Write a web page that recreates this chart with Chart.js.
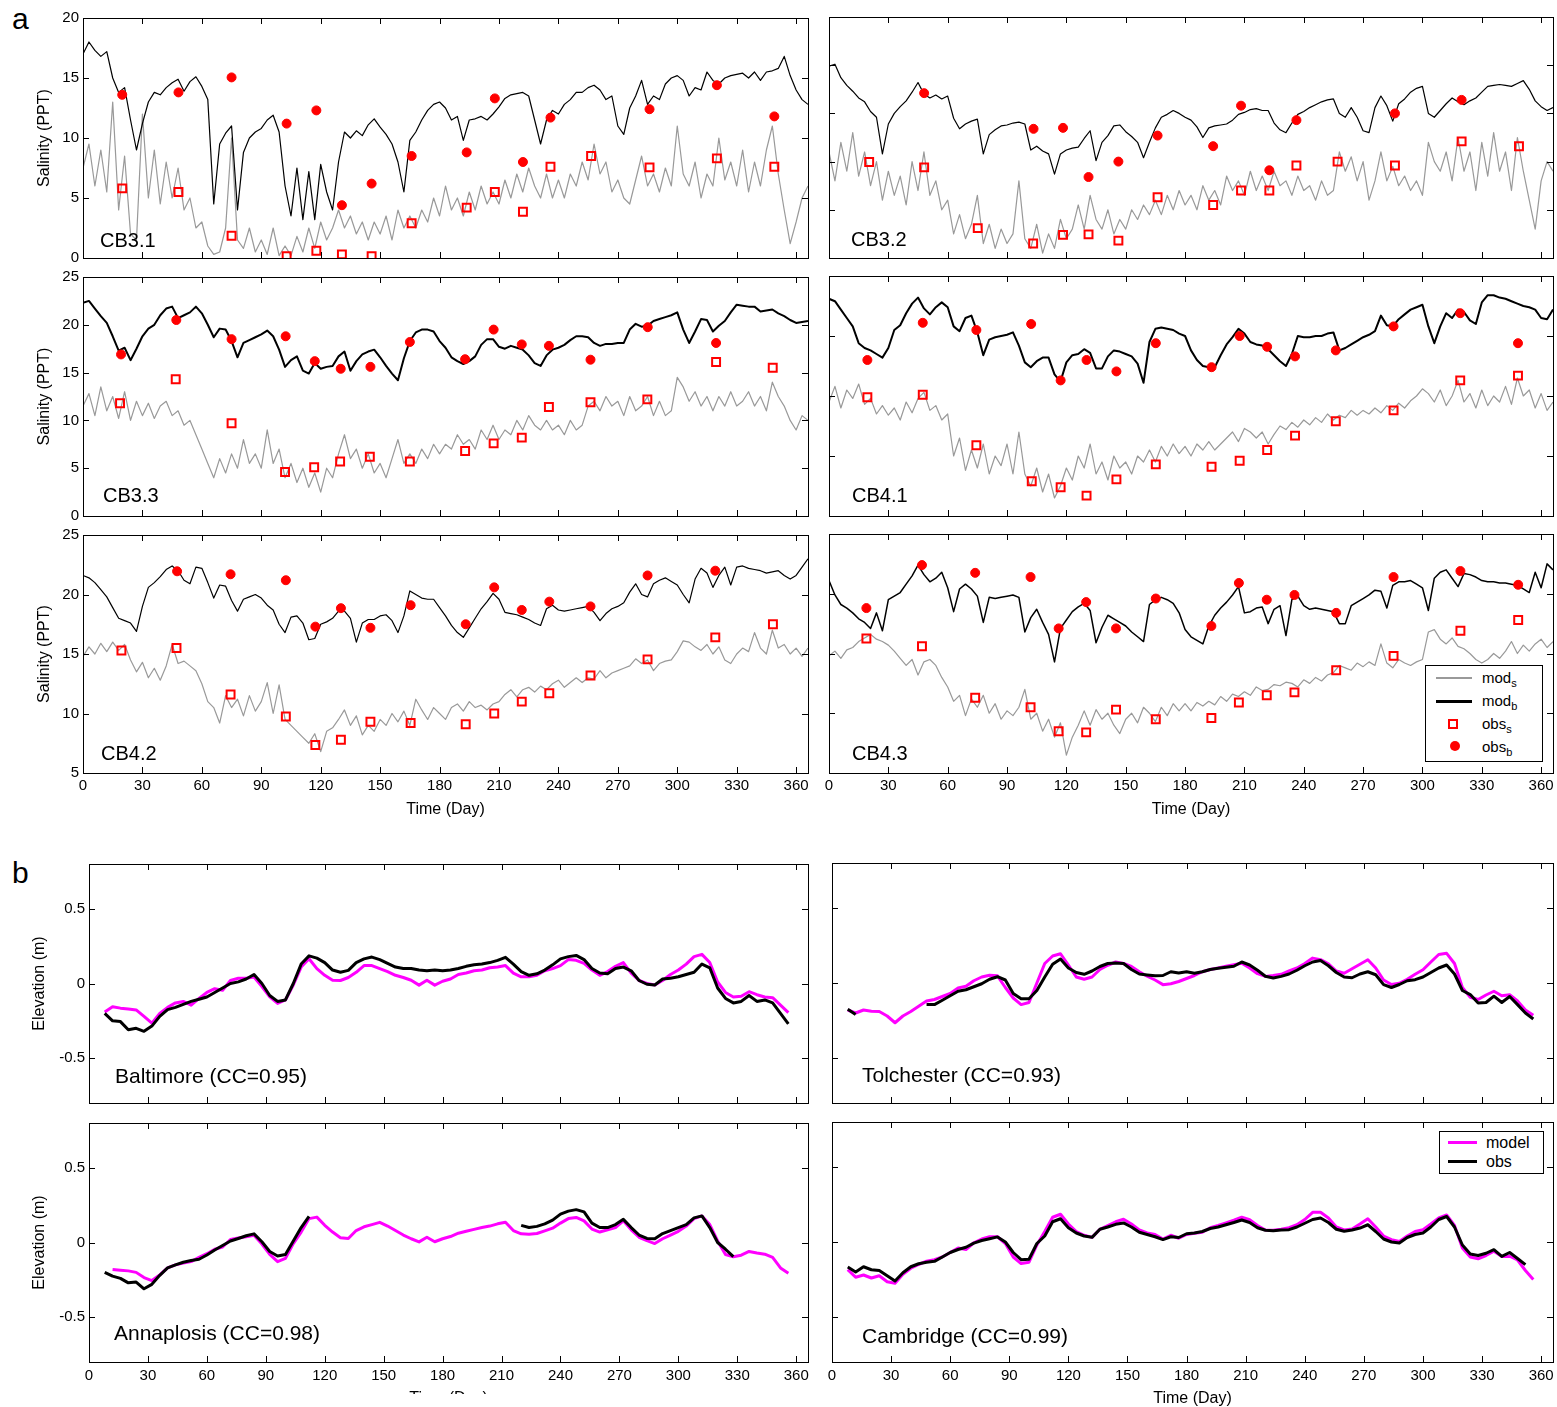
<!DOCTYPE html>
<html>
<head>
<meta charset="utf-8">
<script src="https://cdn.jsdelivr.net/npm/chart.js@4.4.1/dist/chart.umd.min.js"></script>
<style>
  html, body { margin: 0; padding: 0; background: #fff; overflow: hidden; }
  body { width: 1557px; height: 1407px; position: relative; font-family: 'Liberation Sans', Arial, sans-serif; color: #000; }
  .panel { position: absolute; overflow: hidden; }
  .letter { position: absolute; font-size: 30px; line-height: 30px; }
  .legend { position: absolute; border: 1px solid #000; background: #fff; z-index: 10; }
  .legend div { position: absolute; }
  .ltext { font-size: 15px; line-height: 15px; white-space: nowrap; }
  .ltext sub { font-size: 11px; vertical-align: -4px; line-height: 0; }
  .lsq { width: 6px; height: 6px; border: 2px solid #f00; }
  .ldot { width: 10px; height: 10px; border-radius: 50%; background: #f00; }
</style>
</head>
<body>
<div class="letter" style="left:12px;top:4px">a</div>
<div class="letter" style="left:12px;top:858px">b</div>

<div class="legend" style="left:1425px;top:665px;width:116px;height:95px">
  <div style="left:10px;top:10.5px;width:36px;height:2.5px;background:#999"></div>
  <div class="ltext" style="left:56px;top:4px">mod<sub>s</sub></div>
  <div style="left:10px;top:33.5px;width:36px;height:3px;background:#000"></div>
  <div class="ltext" style="left:56px;top:27px">mod<sub>b</sub></div>
  <div class="lsq" style="left:22px;top:52.5px"></div>
  <div class="ltext" style="left:56px;top:50px">obs<sub>s</sub></div>
  <div class="ldot" style="left:23.5px;top:75px"></div>
  <div class="ltext" style="left:56px;top:72.5px">obs<sub>b</sub></div>
</div>

<div class="legend" style="left:1439px;top:1131px;width:103px;height:41px">
  <div style="left:8px;top:8.8px;width:29px;height:3px;background:#f0f"></div>
  <div class="ltext" style="left:46px;top:2.5px;font-size:16px;line-height:16px">model</div>
  <div style="left:8px;top:28.2px;width:29px;height:3px;background:#000"></div>
  <div class="ltext" style="left:46px;top:21.9px;font-size:16px;line-height:16px">obs</div>
</div>

<script>
// ---- axis ticks ----
const dayTicks = [0, 30, 60, 90, 120, 150, 180, 210, 240, 270, 300, 330, 360];
const salTicks0to20 = [0, 5, 10, 15, 20];
const salTicks0to25 = [0, 5, 10, 15, 20, 25];
const salTicks5to25 = [5, 10, 15, 20, 25];
const elevTicks = [-0.5, 0, 0.5];

// ---- salinity model series, one value every 3 days from day 0 ----
const cb31Surf = [
  7.5, 9.5, 6, 9, 5.5, 13, 4, 8.5, 2, 1.5,
  12, 5, 9, 4.5, 8, 5, 7.5, 4, 5, 2.5,
  3, 1, 0.3, 0.5, 2.5, 10, 1.5, 0.8, 2.5, 0.5,
  1.5, 0.3, 2.5, 0.2, 1, 0.2, 1.8, 0.5, 2.5, 0.8,
  3, 1.5, 2.5, 4, 2.5, 3.5, 2, 3, 1.5, 3,
  2, 3.5, 1.5, 4, 2.5, 3.5, 2.5, 4, 3, 5,
  3.5, 6, 4, 5, 3.5, 5.5, 4, 6, 4.5, 5.5,
  4.5, 6.5, 5, 7, 5.5, 7.5, 6, 5, 7, 5,
  6.5, 5, 7, 6, 8, 6.5, 9.5, 7, 8, 5.5,
  6.5, 5, 4.5, 6.5, 8.5, 6, 7, 5.5, 7.5, 6,
  11, 7, 6, 8, 5, 7, 6, 10, 6.5, 8,
  6, 9, 5.5, 8, 6, 9, 11, 7, 4, 1.2,
  3, 5, 6
];
const cb31Bot = [
  17.0, 18.0, 17.3, 16.8, 17.2, 15.0, 13.8, 14.2, 11.5, 9.0,
  11.2, 13.0, 13.8, 13.6, 14.2, 14.6, 14.9, 13.9, 14.7, 15.1,
  14.3, 13.2, 4.5, 9.5, 10.4, 11.0, 4.0, 8.8, 10.0, 10.5,
  10.8, 11.5, 11.9, 10.5, 6.0, 3.5, 7.5, 3.2, 7.2, 3.2,
  7.8, 5.5, 4.0, 8.0, 10.5, 10.0, 10.6, 10.2, 11.1, 11.6,
  10.9, 10.3, 9.5, 8.0, 5.5, 9.8, 10.5, 11.5, 12.3, 12.8,
  13.0, 12.5, 11.5, 11.8, 9.8, 11.5, 11.6, 11.8, 11.5, 12.0,
  12.6, 13.3, 13.6, 13.7, 13.8, 13.5, 11.5, 9.5, 11.5, 12.3,
  12.0, 12.8, 13.2, 13.8, 13.8, 14.2, 14.4, 14.0, 13.2, 13.5,
  11.0, 10.3, 12.5, 13.5, 14.8, 12.8, 13.5, 13.2, 14.5, 15.0,
  15.2, 14.8, 13.5, 14.2, 14.0, 15.5, 14.8, 14.5, 15.0, 15.2,
  15.3, 15.4, 15.0, 15.5, 14.8, 15.5, 15.6, 15.8, 16.8, 15.2,
  14.0, 13.2, 12.8
];
const cb32Surf = [
  11, 8, 12, 9, 13, 8.5, 11, 7.5, 10, 6,
  9, 6.5, 8.5, 5.5, 10, 7, 11, 6.5, 8, 5,
  6, 2.5, 4.5, 2, 3.5, 6.5, 1.5, 3.5, 1, 3,
  1.5, 2.5, 8, 2, 1, 3.5, 0.5, 2.5, 1, 4,
  2, 3, 5.5, 3, 6.5, 4, 3, 5, 2.5, 4,
  3, 5, 4, 5.5, 4.5, 6, 4.5, 6.5, 5, 7,
  5.5, 6.5, 5, 7.5, 6, 7, 5.5, 8.5, 7, 8,
  6.5, 9, 7, 8.5, 7, 9, 7.5, 8, 6.5, 8.5,
  7, 7.5, 6, 8, 6.5, 7, 11, 9, 10.5, 8,
  10, 6, 8, 11, 8, 9.5, 7.5, 8.5, 7, 8,
  6.5, 12, 10, 9, 11, 8, 12.5, 9, 11, 7,
  12, 8.5, 13, 9, 11, 7, 12.5, 9, 6, 3,
  8, 10, 9
];
const cb32Bot = [
  19.9, 20.1, 18.7, 17.9, 17.3, 16.6, 16.2, 15.2, 14.6, 10.8,
  13.9, 15.0, 15.7, 16.3, 17.2, 18.2, 17.0, 16.6, 16.9, 16.5,
  16.8, 14.5, 13.4, 13.9, 14.2, 14.4, 10.8, 12.8, 13.3, 13.7,
  13.8, 14.0, 14.1, 13.9, 11.2, 11.6, 11.1, 10.8, 8.7, 10.8,
  11.2, 11.4, 11.5, 12.4, 13.2, 10.1, 12.0, 12.7, 13.7, 13.8,
  13.1, 12.6, 12.0, 10.4, 12.0, 13.5, 14.6, 14.9, 15.3, 15.0,
  14.6, 14.3, 13.6, 12.5, 13.5, 13.7, 13.8, 13.9, 14.3, 14.9,
  15.1, 15.4, 15.5, 15.3, 15.3, 14.0, 13.3, 13.0, 14.0, 14.9,
  15.2, 15.6, 15.9, 16.2, 16.4, 16.5, 15.0, 14.6, 15.6, 14.6,
  13.2, 13.0, 15.6, 16.8, 15.8, 14.2, 16.0, 16.5, 17.2, 17.6,
  17.8, 15.0, 14.6, 15.3, 16.0, 16.6, 16.2, 15.9, 16.3, 16.6,
  17.2, 17.8, 17.9, 18.0, 17.9, 17.8, 18.1, 18.4, 17.5, 16.3,
  15.7, 15.3, 15.6
];
const cb33Surf = [
  11.5, 12.8, 10.5, 13.5, 11.0, 12.5, 10.2, 13.0, 10.0, 12.0,
  10.5, 11.8, 10.2, 11.5, 12.0, 10.5, 11.0, 9.5, 10.0, 8.5,
  7.0, 5.5, 4.0, 6.0, 4.5, 6.5, 5.0, 8.0, 5.5, 6.5,
  5.0, 9.0, 5.5, 7.0, 4.0, 5.5, 3.5, 5.0, 3.0, 4.5,
  2.5, 5.0, 4.0, 6.5, 8.5, 6.0, 7.0, 5.0, 6.5, 4.5,
  5.5, 4.0, 6.0, 8.0, 5.5, 6.5, 5.5, 7.0, 6.0, 7.5,
  6.5, 7.5, 7.0, 8.5, 7.5, 8.0, 7.0, 9.0, 8.0, 9.5,
  8.0, 9.0, 8.5, 10.0, 9.0, 10.5, 9.5, 9.0, 10.0, 9.0,
  9.5, 8.5, 10.0, 9.0, 9.5, 11.5, 12.0, 11.0, 12.5, 11.5,
  12.0, 10.5, 12.5, 11.0, 11.5, 12.5, 10.5, 12.0, 10.5, 11.0,
  14.5, 13.5, 12.0, 13.0, 11.5, 12.5, 11.0, 12.5, 11.5, 13.0,
  11.5, 12.0, 13.0, 11.5, 12.5, 11.0, 14.0, 12.5, 11.5, 10.0,
  9.0, 10.5, 10.0
];
const cb33Bot = [
  22.3, 22.5, 21.7, 20.9, 20.2, 18.8, 17.3, 17.6, 16.3, 17.5,
  18.8, 19.6, 20.0, 21.0, 21.7, 21.9, 20.7, 21.0, 21.3, 21.9,
  21.2, 20.0, 18.7, 19.6, 19.5, 18.3, 16.6, 18.1, 18.4, 18.7,
  19.0, 19.4, 18.8, 17.4, 15.6, 16.3, 16.7, 15.2, 14.9, 16.0,
  15.4, 15.6, 15.7, 16.7, 17.2, 15.2, 16.2, 16.9, 17.2, 17.4,
  16.6, 15.7, 14.9, 14.2, 16.5, 18.3, 19.2, 19.5, 19.5, 19.3,
  18.3, 17.6, 16.6, 16.2, 15.9, 16.2, 16.7, 17.9, 18.5, 18.5,
  17.7, 17.5, 17.8, 17.6, 17.4, 16.8, 16.0, 15.7, 16.8, 17.4,
  17.6, 17.9, 18.4, 18.8, 18.8, 18.7, 18.1, 17.8, 18.0, 18.0,
  18.1, 18.1, 19.5, 20.1, 19.8, 19.9, 20.4, 20.6, 20.8, 21.0,
  21.3, 19.5, 18.1, 19.3, 20.6, 20.5, 19.3, 19.9, 20.4, 21.3,
  22.1, 22.0, 21.9, 21.9, 21.4, 21.5, 21.6, 21.2, 20.9, 20.5,
  20.2, 20.3, 20.4
];
const cb41Surf = [
  14.5, 15.8, 14.0, 15.5, 14.8, 16.0, 14.3, 14.8, 13.5, 14.2,
  13.4, 14.0, 13.0, 14.5, 13.6, 14.8, 15.3, 13.8, 14.2, 13.0,
  13.5, 10.0, 11.5, 8.8, 10.5, 9.0, 11.0, 8.5, 10.0, 9.2,
  11.0, 8.5, 12.0, 8.5, 7.5, 9.0, 7.0, 8.5, 6.5, 7.5,
  9.0, 8.0, 10.0, 9.0, 11.0, 8.5, 9.5, 8.0, 10.0, 9.0,
  9.5, 8.5, 10.0, 9.5, 10.5, 9.5, 10.8, 10.0, 11.0, 10.2,
  10.8, 10.0, 11.0, 10.5, 11.2, 10.5, 11.0, 11.5, 12.0, 11.2,
  12.3, 12.0, 11.5, 12.0, 11.0, 11.8, 12.5, 12.2, 12.8, 12.4,
  13.0, 12.6, 13.2, 12.8, 13.5, 13.0, 13.4, 13.2, 13.8, 13.4,
  13.8, 13.5, 14.0, 13.6, 14.2, 13.8, 14.4, 14.0, 14.6, 15.0,
  15.6, 15.2, 14.5, 15.5, 14.2, 15.0, 16.3, 14.5, 15.2, 14.0,
  15.5, 14.2, 15.0, 14.5, 15.8, 14.3, 16.5, 15.0, 15.5, 14.0,
  15.2, 13.8, 14.5
];
const cb41Bot = [
  23.1, 22.9, 22.2, 21.5, 20.8, 19.4, 19.0, 18.8, 18.5, 18.2,
  19.0, 20.5, 20.9, 21.9, 22.7, 23.2, 22.3, 21.8, 22.4, 22.8,
  22.4, 20.8, 20.4, 21.5, 21.7, 20.3, 18.4, 19.7, 19.9, 20.0,
  20.1, 20.3, 19.2, 17.8, 17.4, 17.9, 18.2, 18.2, 16.8, 16.2,
  17.8, 18.4, 18.5, 18.9, 18.6, 17.3, 17.3, 18.3, 18.8, 18.7,
  18.5, 18.3, 17.7, 16.1, 19.5, 20.6, 20.7, 20.6, 20.5, 20.2,
  20.0, 18.8, 18.0, 17.5, 17.4, 17.4, 18.4, 19.3, 19.9, 20.6,
  20.2, 19.5, 19.3, 19.2, 18.9, 18.4, 17.9, 17.5, 18.5, 20.0,
  19.9, 19.9, 20.0, 20.0, 20.2, 20.3, 18.8, 19.0, 19.3, 19.6,
  19.9, 20.1, 20.4, 21.7, 20.9, 20.8, 21.4, 21.8, 22.2, 22.4,
  22.6, 20.8, 19.4, 20.8, 21.9, 21.5, 22.2, 22.0, 21.3, 21.0,
  22.8, 23.4, 23.4, 23.2, 23.1, 22.9, 22.7, 22.5, 22.4, 22.2,
  21.5, 21.4, 22.2
];
const cb42Surf = [
  14.8, 15.6, 15.0, 15.9, 15.2, 16.0, 15.3, 15.8, 14.5, 13.5,
  14.3, 13.0, 13.8, 12.8, 14.0, 15.8, 14.2, 14.4, 14.0, 13.6,
  12.5, 11.0, 10.5, 9.2, 11.5, 10.5, 11.2, 9.8, 11.5, 10.2,
  11.0, 12.6, 10.0, 12.4, 9.5, 9.0, 8.5, 8.0, 7.5, 8.3,
  6.8, 8.5, 8.8, 9.5, 10.3, 9.0, 9.8, 8.2, 9.0, 8.5,
  9.5, 9.0, 10.0, 9.3, 10.2, 9.0, 11.2, 10.3, 9.5, 10.5,
  10.0, 9.5, 10.5, 10.8, 10.2, 11.0, 10.5, 10.7, 10.3, 10.8,
  11.0, 11.6, 12.0, 11.4, 12.0, 12.2, 11.8, 12.3, 12.0, 12.5,
  12.8, 12.2, 12.6, 13.0, 12.6, 13.0, 12.9, 13.6, 13.0, 13.4,
  13.6, 13.8, 14.0, 14.6, 14.2, 14.5, 13.6, 14.2, 14.4, 14.5,
  15.2, 16.1, 16.0, 15.6, 15.3, 15.8, 15.0, 15.6, 14.5, 14.2,
  15.0, 15.5, 15.2, 16.8, 15.5, 15.0, 17.0, 15.5, 15.8, 15.0,
  15.5, 14.8, 15.5
];
const cb42Bot = [
  21.6, 21.4, 21.0, 20.4, 19.8, 18.9, 18.0, 17.8, 17.6, 16.9,
  19.0, 20.6, 21.0, 21.5, 22.1, 22.4, 22.0, 21.2, 20.9, 22.3,
  22.2, 21.0, 19.7, 20.8, 20.7, 19.5, 18.6, 19.6, 19.8, 20.0,
  19.7, 19.1, 18.7, 17.5, 16.8, 18.1, 18.2, 17.6, 16.2, 16.3,
  17.5, 17.7, 18.0, 18.6, 18.6, 18.0, 16.0, 17.6, 17.9, 17.9,
  18.2, 18.3, 17.8, 16.8, 18.2, 20.3, 20.0, 19.7, 19.6, 19.6,
  18.9, 18.2, 17.4, 16.8, 16.4, 17.2, 18.0, 18.8, 19.4, 20.1,
  19.6, 18.5, 18.4, 18.3, 18.1, 17.9, 17.6, 17.4, 18.8, 19.1,
  18.7, 18.6, 18.7, 18.8, 18.9, 19.0, 18.5, 17.8, 18.4, 18.8,
  19.0, 19.3, 20.2, 20.9, 20.0, 19.8, 20.9, 21.2, 21.4, 21.1,
  20.8, 20.0, 19.3, 21.3, 22.2, 21.8, 20.6, 21.6, 22.3, 20.8,
  22.3, 22.4, 22.2, 22.1, 22.0, 21.8, 21.9, 22.0, 21.6, 21.3,
  21.6, 22.3, 23.0
];
const cb43Surf = [
  14.8, 15.2, 14.6, 15.3, 15.5, 16.0, 16.3, 16.6, 16.2, 16.0,
  15.7, 15.2, 14.6, 14.0, 14.5, 13.2, 14.3, 14.5, 14.0, 13.0,
  12.2, 11.0, 11.5, 9.8, 11.2, 10.5, 11.5, 10.0, 10.8, 9.5,
  10.2, 9.8, 10.5, 12.0, 9.5, 10.0, 8.5, 9.5, 8.0, 9.2,
  6.5, 8.0, 9.0, 10.2, 9.0, 10.3, 9.5, 10.0, 9.0, 8.3,
  9.5, 10.0, 9.2, 10.5, 10.0, 9.3, 10.5, 9.8, 10.8, 10.2,
  10.8, 10.2, 10.9, 10.6, 11.0, 10.7, 11.4, 11.0, 11.6, 11.4,
  11.8, 11.5, 12.2, 11.9, 12.0, 12.4, 12.3, 12.6, 12.5, 12.2,
  12.8, 12.5, 13.0, 12.7, 13.2, 13.4, 14.0, 13.8, 13.6, 14.2,
  13.9, 14.3, 14.0, 15.8, 14.2, 13.8, 14.5, 14.2, 14.0, 14.3,
  14.5, 16.8, 17.0, 16.2, 15.8, 16.3, 15.6, 15.4, 15.0, 14.5,
  14.2, 14.5, 15.0, 14.6, 15.2, 16.0, 15.0, 15.7, 15.2, 15.8,
  16.2, 15.5, 16.0
];
const cb43Bot = [
  21.1, 19.9, 19.1, 18.8, 18.4, 17.9, 17.6, 17.1, 18.4, 16.9,
  19.5, 19.8, 20.1, 20.8, 21.5, 22.4, 21.6, 21.0, 21.3, 21.8,
  20.5, 18.5, 20.4, 20.8, 20.4, 19.8, 17.6, 19.7, 19.6, 19.7,
  19.8, 19.9, 19.7, 16.8, 18.0, 18.7, 17.6, 16.6, 14.3, 17.1,
  17.8, 18.5, 18.9, 19.2, 18.6, 15.9, 17.2, 18.2, 17.9, 17.6,
  17.3, 16.8, 16.4, 16.0, 19.1, 19.5, 19.7, 19.5, 19.2, 18.4,
  17.0, 16.4, 16.1, 15.8, 17.3, 18.2, 18.8, 19.3, 19.9, 20.6,
  18.4, 18.5, 18.8, 18.9, 17.5, 18.7, 19.0, 16.5, 19.5, 19.8,
  19.0, 18.7, 18.8, 18.7, 18.6, 18.5, 17.5, 17.5, 19.0, 19.3,
  19.6, 19.9, 20.3, 20.2, 18.8, 20.7, 21.0, 21.0, 21.1, 20.8,
  20.5, 18.6, 21.3, 21.8, 22.0, 21.3, 20.6, 21.7, 21.6, 21.4,
  21.1, 21.0, 21.0, 20.9, 20.9, 20.8, 20.7, 20.4, 20.1, 21.8,
  20.5, 22.5, 22.0
];

// ---- salinity observations [day, value] ----
const cb31ObsS = [[19.8,5.8],[48.2,5.5],[75,1.85],[102.8,0.15],[117.8,0.6],[130.7,0.3],[145.7,0.15],[165.9,2.9],[193.7,4.2],[207.9,5.5],[222.1,3.85],[236,7.6],[256.5,8.5],[286,7.55],[320,8.3],[349,7.6]];
const cb31ObsB = [[19.8,13.6],[48.2,13.8],[75,15.05],[102.8,11.2],[117.8,12.3],[130.7,4.4],[145.7,6.2],[165.9,8.5],[193.7,8.8],[207.9,13.3],[222.1,8.0],[236,11.7],[286,12.4],[320,14.4],[349,11.8]];
const cb32ObsS = [[20.3,9.95],[48.1,9.4],[75.2,3.1],[103.2,1.5],[118.3,2.4],[131.2,2.45],[146.3,1.8],[166.1,6.3],[194.2,5.5],[208.3,7.0],[222.6,7.0],[236.3,9.6],[257.1,10.0],[286.1,9.6],[319.8,12.1],[348.8,11.6]];
const cb32ObsB = [[48.1,17.1],[103.4,13.4],[118.3,13.5],[131.2,8.4],[146.3,10.0],[166.1,12.7],[194.2,11.6],[208.3,15.8],[222.6,9.1],[236.3,14.3],[286.1,15.0],[319.8,16.4]];
const cb33ObsS = [[18.7,11.8],[46.8,14.3],[75,9.7],[102,4.6],[116.7,5.1],[129.8,5.7],[144.8,6.2],[165,5.7],[192.9,6.8],[207.3,7.6],[221.5,8.2],[235.2,11.4],[256.2,11.9],[284.9,12.2],[319.6,16.1],[348.2,15.5]];
const cb33ObsB = [[19.2,16.9],[47.1,20.5],[75,18.5],[102.3,18.8],[117,16.2],[130.1,15.4],[145.1,15.6],[165,18.2],[192.9,16.4],[207.3,19.5],[221.5,17.95],[235.2,17.8],[256.2,16.35],[285.1,19.75],[319.6,18.1]];
const cb41ObsS = [[19.4,14.9],[47.4,15.1],[74.5,10.9],[102.5,7.9],[117.1,7.4],[130.2,6.7],[145.3,8.05],[165.2,9.3],[193.4,9.1],[207.6,9.6],[221.5,10.5],[235.6,11.7],[256.2,12.9],[285.4,13.8],[319.1,16.3],[348.3,16.7]];
const cb41ObsB = [[19.4,18.0],[47.4,21.1],[74.5,20.5],[102.2,21.0],[117.1,16.3],[130.2,18.0],[145.3,17.05],[165.2,19.4],[193.4,17.4],[207.6,20.0],[221.5,19.1],[235.6,18.3],[256.2,18.8],[285.4,20.8],[319.1,21.9],[348.3,19.4]];
const cb42ObsS = [[19.4,15.3],[47.2,15.5],[74.5,11.6],[102.4,9.75],[117.3,7.35],[130.2,7.8],[145.1,9.3],[165.4,9.2],[193.2,9.1],[207.6,10.0],[221.5,11.0],[235.4,11.7],[256.2,13.2],[285,14.55],[319.2,16.4],[348.3,17.5]];
const cb42ObsB = [[47.5,21.95],[74.5,21.7],[102.4,21.2],[117.3,17.3],[130.2,18.85],[145.1,17.2],[165.4,19.1],[193.2,17.5],[207.6,20.6],[221.5,18.7],[235.4,19.4],[256.2,19.0],[285,21.6],[319.2,22.0]];
const cb43ObsS = [[18.9,16.25],[47,15.6],[73.9,11.3],[101.9,10.5],[116.1,8.5],[130,8.4],[145.1,10.3],[165.2,9.5],[193.3,9.6],[207.2,10.9],[221.3,11.5],[235.3,11.75],[256.4,13.6],[285.4,14.8],[319.2,16.9],[348.4,17.8]];
const cb43ObsB = [[18.9,18.8],[47,22.4],[73.9,21.75],[101.9,21.4],[116.1,17.1],[130,19.3],[145.1,17.1],[165.2,19.6],[193.3,17.3],[207.2,20.9],[221.3,19.5],[235.3,19.9],[256.4,18.4],[285.4,21.4],[319.2,21.9],[348.4,20.75]];

// ---- elevation series, one value every 4 days from day 8 (null = no data) ----
const baltModel = [
  -0.19, -0.155, -0.165, -0.17, -0.177, -0.22, -0.265, -0.2, -0.16, -0.13,
  -0.12, -0.145, -0.1, -0.06, -0.035, -0.045, 0.02, 0.035, 0.035, 0.044,
  -0.02, -0.09, -0.133, -0.11, -0.01, 0.11, 0.166, 0.1, 0.055, 0.022,
  0.02, 0.04, 0.075, 0.12, 0.12, 0.1, 0.08, 0.055, 0.04, 0.022,
  -0.011, 0.022, -0.011, 0.015, 0.03, 0.06, 0.07, 0.085, 0.09, 0.105,
  0.11, 0.12, 0.07, 0.045, 0.045, 0.055, 0.085, 0.1, 0.12, 0.16,
  0.155, 0.135, 0.09, 0.055, 0.08, 0.115, 0.14, 0.07, 0.02, 0.0,
  -0.01, 0.02, 0.06, 0.09, 0.13, 0.18, 0.195, 0.14, 0.01, -0.06,
  -0.09, -0.085, -0.055, -0.075, -0.09, -0.095, -0.145, -0.195
];
const baltObs = [
  -0.2, -0.25, -0.255, -0.31, -0.3, -0.32, -0.285, -0.22, -0.175, -0.16,
  -0.14, -0.12, -0.105, -0.09, -0.06, -0.03, 0.0, 0.011, 0.03, 0.06,
  0.0, -0.08, -0.12, -0.11, 0.0, 0.13, 0.185, 0.17, 0.14, 0.09,
  0.075, 0.088, 0.14, 0.165, 0.177, 0.16, 0.135, 0.11, 0.1, 0.1,
  0.09, 0.085, 0.09, 0.085, 0.09, 0.1, 0.115, 0.125, 0.13, 0.14,
  0.155, 0.175, 0.13, 0.08, 0.055, 0.065, 0.09, 0.125, 0.165, 0.18,
  0.188, 0.16, 0.1, 0.07, 0.065, 0.1, 0.11, 0.085, 0.02, -0.005,
  -0.01, 0.03, 0.035, 0.045, 0.06, 0.075, 0.13, 0.105, -0.03, -0.1,
  -0.13, -0.12, -0.08, -0.12, -0.11, -0.13, -0.2, -0.27
];
const tolcModel = [
  -0.18, -0.2, -0.18, -0.188, -0.19, -0.22, -0.265, -0.22, -0.19, -0.155,
  -0.12, -0.11, -0.09, -0.07, -0.033, -0.022, 0.015, 0.04, 0.052, 0.048,
  -0.03, -0.1, -0.144, -0.13, 0.0, 0.13, 0.18, 0.195, 0.12, 0.04,
  0.025, 0.04, 0.09, 0.118, 0.14, 0.13, 0.11, 0.075, 0.045, 0.02,
  -0.011, -0.005, 0.01, 0.03, 0.05, 0.075, 0.09, 0.1, 0.112, 0.122,
  0.132, 0.1, 0.062, 0.044, 0.05, 0.058, 0.08, 0.1, 0.13, 0.166,
  0.156, 0.128, 0.08, 0.065, 0.095, 0.125, 0.155, 0.1, 0.02, -0.01,
  -0.002, 0.025, 0.058, 0.088, 0.14, 0.19, 0.198, 0.13, -0.03, -0.095,
  -0.11, -0.08, -0.055, -0.085, -0.078, -0.12, -0.18, -0.215
];
const tolcObs = [
  -0.175, -0.21, null, null, null, null, null, null, null, null,
  -0.144, -0.144, -0.115, -0.085, -0.055, -0.045, -0.025, -0.005, 0.025, 0.042,
  0.02, -0.07, -0.105, -0.105, -0.05, 0.04, 0.125, 0.16, 0.1, 0.07,
  0.058, 0.08, 0.11, 0.13, 0.133, 0.13, 0.09, 0.06, 0.054, 0.048,
  0.05, 0.075, 0.066, 0.075, 0.065, 0.075, 0.09, 0.098, 0.105, 0.112,
  0.14, 0.12, 0.085, 0.045, 0.033, 0.044, 0.06, 0.085, 0.115, 0.14,
  0.15, 0.115, 0.07, 0.04, 0.035, 0.06, 0.075, 0.055, -0.011, -0.03,
  -0.01, 0.015, 0.022, 0.04, 0.07, 0.1, 0.12, 0.06, -0.05, -0.077,
  -0.133, -0.13, -0.088, -0.13, -0.09, -0.144, -0.2, -0.24
];
const annaModel = [
  null, -0.18, -0.185, -0.19, -0.2, -0.235, -0.255, -0.217, -0.17, -0.15,
  -0.138, -0.128, -0.1, -0.075, -0.045, -0.03, 0.02, 0.03, 0.038, 0.048,
  -0.01, -0.08, -0.128, -0.106, -0.007, 0.07, 0.16, 0.17, 0.115, 0.07,
  0.032, 0.027, 0.08, 0.105, 0.12, 0.135, 0.11, 0.08, 0.05, 0.025,
  0.004, 0.035, 0.005, 0.025, 0.04, 0.062, 0.075, 0.088, 0.1, 0.11,
  0.125, 0.135, 0.08, 0.058, 0.056, 0.06, 0.078, 0.096, 0.13, 0.16,
  0.168, 0.145, 0.09, 0.07, 0.085, 0.1, 0.145, 0.085, 0.035, 0.012,
  -0.007, 0.025, 0.05, 0.075, 0.11, 0.16, 0.178, 0.12, 0.01, -0.08,
  -0.095, -0.085, -0.06, -0.07, -0.078, -0.1, -0.17, -0.206
];
const annaObs = [
  -0.2, -0.225, -0.24, -0.27, -0.265, -0.31, -0.28, -0.22, -0.17, -0.15,
  -0.132, -0.12, -0.112, -0.084, -0.05, -0.02, 0.01, 0.027, 0.045, 0.058,
  0.005, -0.06, -0.09, -0.08, 0.01, 0.1, 0.175, null, null, null,
  null, null, null, null, null, null, null, null, null, null,
  null, null, null, null, null, null, null, null, null, null,
  null, null, null, 0.115, 0.1, 0.108, 0.125, 0.15, 0.19, 0.21,
  0.22, 0.205, 0.13, 0.1, 0.1, 0.12, 0.155, 0.1, 0.05, 0.027,
  0.025, 0.06, 0.08, 0.1, 0.12, 0.165, 0.178, 0.1, 0.0, -0.045,
  -0.095, null, null, null, null, null, null, null
];
const cambModel = [
  -0.184, -0.235, -0.22, -0.24, -0.225, -0.265, -0.275, -0.215, -0.175, -0.15,
  -0.128, -0.118, -0.1, -0.07, -0.04, -0.05, -0.005, 0.02, 0.035, 0.035,
  -0.01, -0.1, -0.144, -0.135, -0.02, 0.07, 0.165, 0.185, 0.12, 0.07,
  0.045, 0.031, 0.085, 0.11, 0.135, 0.152, 0.12, 0.08, 0.06, 0.05,
  0.02, 0.045, 0.025, 0.05, 0.058, 0.065, 0.095, 0.11, 0.127, 0.145,
  0.165, 0.148, 0.11, 0.08, 0.078, 0.085, 0.095, 0.115, 0.15, 0.198,
  0.198, 0.16, 0.1, 0.08, 0.087, 0.12, 0.155, 0.1, 0.04, 0.016,
  0.004, 0.04, 0.07, 0.082, 0.12, 0.16, 0.18, 0.11, -0.04, -0.1,
  -0.112, -0.09, -0.062, -0.096, -0.095, -0.12, -0.19, -0.25
];
const cambObs = [
  -0.167, -0.2, -0.165, -0.185, -0.19, -0.225, -0.26, -0.205, -0.165, -0.145,
  -0.135, -0.129, -0.1, -0.07, -0.05, -0.035, -0.008, 0.01, 0.022, 0.034,
  0.0, -0.07, -0.118, -0.115, -0.01, 0.04, 0.135, 0.155, 0.095, 0.06,
  0.04, 0.031, 0.085, 0.1, 0.118, 0.127, 0.1, 0.065, 0.05, 0.035,
  0.016, 0.035, 0.03, 0.055, 0.06, 0.07, 0.09, 0.1, 0.115, 0.13,
  0.147, 0.13, 0.095, 0.078, 0.075, 0.08, 0.082, 0.1, 0.125, 0.15,
  0.16, 0.13, 0.085, 0.072, 0.08, 0.093, 0.115, 0.07, 0.02, 0.0,
  -0.007, 0.03, 0.05, 0.06, 0.1, 0.15, 0.17, 0.1, -0.02, -0.08,
  -0.09, -0.075, -0.051, -0.096, -0.07, -0.11, -0.151, null
];

const SAL_START = 0, SAL_STEP = 3;
const ELEV_START = 8, ELEV_STEP = 4;

// ---- panel layout: box = [left, top, width, height] of the plot area ----
const panels = [
  { kind: 'sal', box: [83, 17, 725, 241], y: [0, 20], yTicks: salTicks0to20, showY: true, showX: false,
    label: 'CB3.1', lab: [17, 11], surf: cb31Surf, bot: cb31Bot, obsS: cb31ObsS, obsB: cb31ObsB, botW: 1.2 },
  { kind: 'sal', box: [829, 17, 724, 241], y: [0, 25], yTicks: salTicks0to25, showY: false, showX: false,
    label: 'CB3.2', lab: [22, 12], surf: cb32Surf, bot: cb32Bot, obsS: cb32ObsS, obsB: cb32ObsB, botW: 1.2 },
  { kind: 'sal', box: [83, 276, 725, 240], y: [0, 25], yTicks: salTicks0to25, showY: true, showX: false,
    label: 'CB3.3', lab: [20, 14], surf: cb33Surf, bot: cb33Bot, obsS: cb33ObsS, obsB: cb33ObsB, botW: 2 },
  { kind: 'sal', box: [829, 276, 724, 240], y: [5, 25], yTicks: salTicks5to25, showY: false, showX: false,
    label: 'CB4.1', lab: [23, 14], surf: cb41Surf, bot: cb41Bot, obsS: cb41ObsS, obsB: cb41ObsB, botW: 2 },
  { kind: 'sal', box: [83, 534, 725, 239], y: [5, 25], yTicks: salTicks5to25, showY: true, showX: true,
    label: 'CB4.2', lab: [18, 13], surf: cb42Surf, bot: cb42Bot, obsS: cb42ObsS, obsB: cb42ObsB, botW: 1.2 },
  { kind: 'sal', box: [829, 534, 724, 239], y: [5, 25], yTicks: salTicks5to25, showY: false, showX: true,
    label: 'CB4.3', lab: [23, 13], surf: cb43Surf, bot: cb43Bot, obsS: cb43ObsS, obsB: cb43ObsB, botW: 1.5 },
  { kind: 'elev', box: [89, 863, 719, 240], y: [-0.8, 0.8], yTicks: elevTicks, showY: true, showX: false,
    label: 'Baltimore (CC=0.95)', lab: [26, 20], model: baltModel, obs: baltObs },
  { kind: 'elev', box: [832, 863, 721, 240], y: [-0.8, 0.8], yTicks: elevTicks, showY: false, showX: false,
    label: 'Tolchester (CC=0.93)', lab: [30, 21], model: tolcModel, obs: tolcObs },
  { kind: 'elev', box: [89, 1122, 719, 240], y: [-0.8, 0.8], yTicks: elevTicks, showY: true, showX: true,
    label: 'Annaplosis (CC=0.98)', lab: [25, 22], model: annaModel, obs: annaObs, clipBottom: 1394 },
  { kind: 'elev', box: [832, 1122, 721, 240], y: [-0.8, 0.8], yTicks: elevTicks, showY: false, showX: true,
    label: 'Cambridge (CC=0.99)', lab: [30, 19], model: cambModel, obs: cambObs }
];

const FONT = "'Liberation Sans', Arial, sans-serif";
Chart.defaults.font.family = FONT;
Chart.defaults.color = '#000';
const TICK = 6;

// inward MATLAB-style ticks on all four sides + box
const frameTicks = {
  id: 'frameTicks',
  afterDatasetsDraw(chart) {
    const { ctx, chartArea: a, scales: { x, y } } = chart;
    ctx.save();
    ctx.strokeStyle = '#000';
    ctx.lineWidth = 1;
    ctx.beginPath();
    x.ticks.forEach(t => {
      const px = Math.round(x.getPixelForValue(t.value)) + 0.5;
      ctx.moveTo(px, a.bottom); ctx.lineTo(px, a.bottom - TICK);
      ctx.moveTo(px, a.top); ctx.lineTo(px, a.top + TICK);
    });
    y.ticks.forEach(t => {
      const py = Math.round(y.getPixelForValue(t.value)) + 0.5;
      ctx.moveTo(a.left, py); ctx.lineTo(a.left + TICK, py);
      ctx.moveTo(a.right, py); ctx.lineTo(a.right - TICK, py);
    });
    ctx.stroke();
    ctx.strokeRect(Math.round(a.left) + 0.5, Math.round(a.top) + 0.5, Math.round(a.width), Math.round(a.height));
    ctx.restore();
  }
};

const panelLabel = {
  id: 'panelLabel',
  afterDatasetsDraw(chart, args, opts) {
    const { ctx, chartArea: a } = chart;
    ctx.save();
    ctx.font = opts.size + 'px ' + FONT;
    ctx.fillStyle = '#000';
    ctx.textBaseline = 'alphabetic';
    ctx.fillText(opts.text, a.left + opts.dx, a.bottom - opts.dy);
    ctx.restore();
  }
};

function gridSeries(vals, start, step) {
  return vals.map((v, i) => ({ x: start + i * step, y: v }));
}
function pairSeries(pairs) {
  return pairs.map(([x, y]) => ({ x, y }));
}

function salDatasets(p) {
  return [
    { data: pairSeries(p.obsB), showLine: false, pointStyle: 'circle', pointRadius: 4.5,
      pointBackgroundColor: '#ff0000', pointBorderColor: '#ff0000', pointBorderWidth: 1 },
    { data: pairSeries(p.obsS), showLine: false, pointStyle: 'rect', pointRadius: 5.6,
      pointBackgroundColor: 'rgba(0,0,0,0)', pointBorderColor: '#ff0000', pointBorderWidth: 2 },
    { data: gridSeries(p.bot, SAL_START, SAL_STEP), borderColor: '#000', borderWidth: p.botW,
      pointRadius: 0, borderJoinStyle: 'round' },
    { data: gridSeries(p.surf, SAL_START, SAL_STEP), borderColor: '#999999', borderWidth: 1.2,
      pointRadius: 0, borderJoinStyle: 'round' }
  ];
}

function elevDatasets(p) {
  return [
    { data: gridSeries(p.obs, ELEV_START, ELEV_STEP), borderColor: '#000', borderWidth: 3,
      pointRadius: 0, spanGaps: false, borderJoinStyle: 'round' },
    { data: gridSeries(p.model, ELEV_START, ELEV_STEP), borderColor: '#ff00ff', borderWidth: 3,
      pointRadius: 0, spanGaps: false, borderJoinStyle: 'round' }
  ];
}

function makePanel(p) {
  const sal = p.kind === 'sal';
  const padL = p.showY ? (sal ? 48 : 59) : 15;
  const padR = 15, padT = 12, padB = p.showX ? 46 : 14;
  const [L, T, W, H] = p.box;
  const cw = W + padL + padR, ch = H + padT + padB;

  const wrap = document.createElement('div');
  wrap.className = 'panel';
  wrap.style.left = (L - padL) + 'px';
  wrap.style.top = (T - padT) + 'px';
  wrap.style.width = cw + 'px';
  wrap.style.height = (p.clipBottom ? p.clipBottom - (T - padT) : ch) + 'px';
  const cv = document.createElement('canvas');
  cv.width = cw; cv.height = ch;
  cv.style.width = cw + 'px'; cv.style.height = ch + 'px';
  wrap.appendChild(cv);
  document.body.appendChild(wrap);

  new Chart(cv.getContext('2d'), {
    type: 'line',
    data: { datasets: sal ? salDatasets(p) : elevDatasets(p) },
    options: {
      responsive: false,
      animation: false,
      events: [],
      layout: { padding: { top: padT, right: padR, left: 0, bottom: 0 } },
      scales: {
        x: {
          type: 'linear', min: 0, max: 366,
          grid: { display: false, drawTicks: false },
          border: { display: false },
          ticks: { display: p.showX, padding: sal ? 4 : 5, font: { size: 15 }, color: '#000',
                   maxRotation: 0, autoSkip: false, callback: v => String(v) },
          afterBuildTicks: s => { s.ticks = dayTicks.map(v => ({ value: v })); },
          afterFit: s => { s.height = padB; },
          title: { display: p.showX, text: 'Time (Day)', font: { size: 16 }, padding: 0, color: '#000' }
        },
        y: {
          type: 'linear', min: p.y[0], max: p.y[1],
          grid: { display: false, drawTicks: false },
          border: { display: false },
          ticks: { display: p.showY, padding: 4, font: { size: 15 }, color: '#000', callback: v => String(v) },
          afterBuildTicks: s => { s.ticks = p.yTicks.map(v => ({ value: v })); },
          afterFit: s => { s.width = padL; },
          title: { display: p.showY, text: sal ? 'Salinity (PPT)' : 'Elevation (m)',
                   font: { size: 16 }, padding: 0, color: '#000' }
        }
      },
      plugins: {
        legend: { display: false },
        tooltip: { enabled: false },
        panelLabel: { text: p.label, dx: p.lab[0], dy: p.lab[1], size: sal ? 20 : 21 }
      }
    },
    plugins: [frameTicks, panelLabel]
  });
}

panels.forEach(makePanel);
</script>
</body>
</html>
